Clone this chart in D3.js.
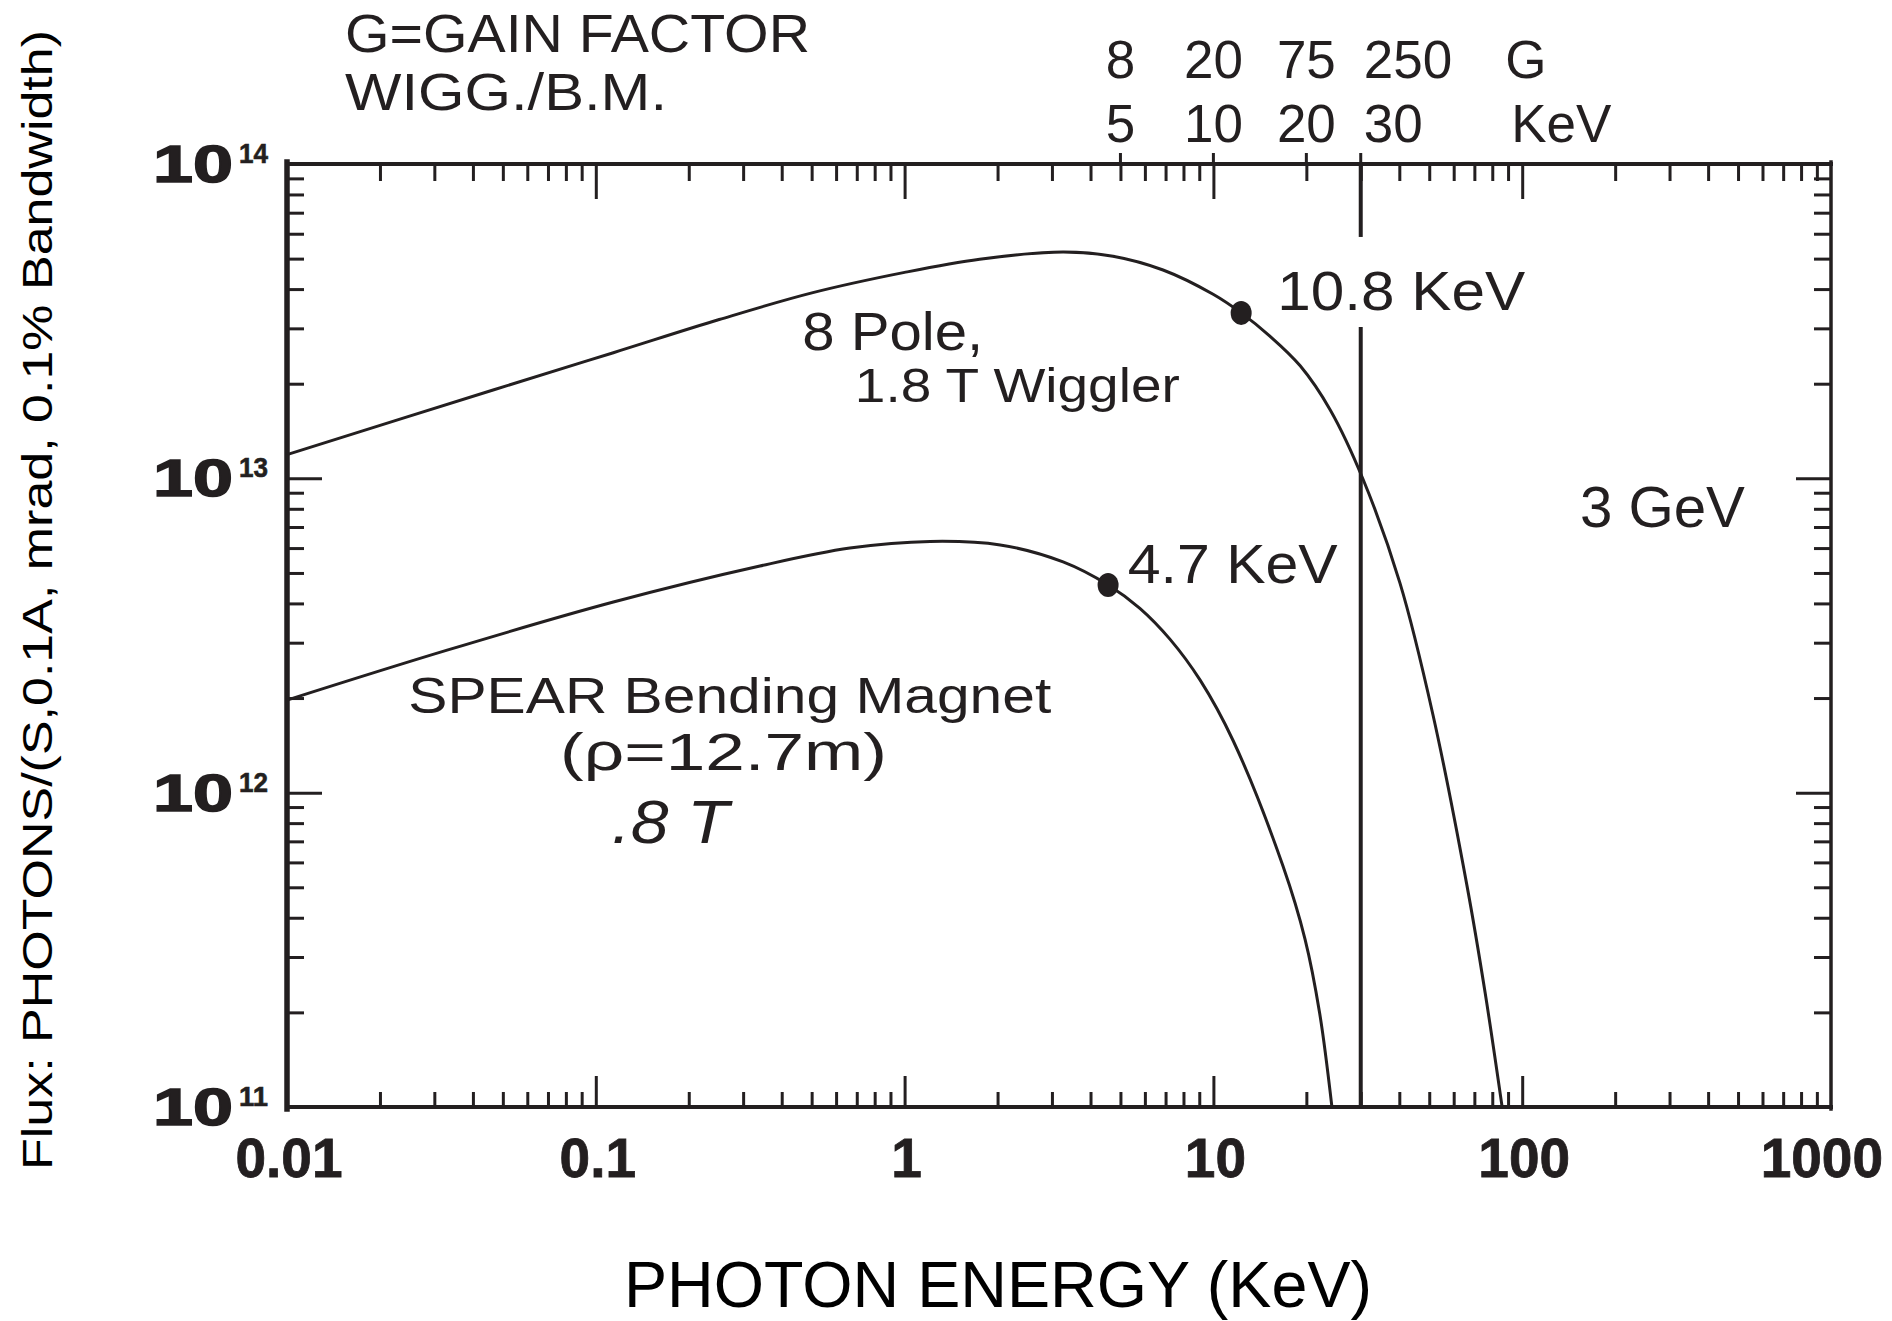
<!DOCTYPE html>
<html>
<head>
<meta charset="utf-8">
<script src="https://cdn.jsdelivr.net/npm/d3@7"></script>
<style>
  html, body { margin: 0; padding: 0; background: #fff; }
  svg { display: block; }
  text { font-family: "Liberation Sans", Arial, Helvetica, sans-serif; fill: #231f20; }
</style>
</head>
<body>
<svg id="chart" width="1892" height="1321"></svg>
<script>
// 8 pole 1.8 T wiggler, flux vs photon energy (KeV)
const wigglerEnergy = [0.01, 0.0465, 0.114, 0.251, 0.501, 1.0, 1.75, 3.26, 4.73, 6.87, 9.98, 12.3, 15.2, 19.1, 23.9, 30.5, 40.2, 51.4, 66.2, 75.9, 86.1]
const wigglerFlux = [1.19e13, 1.91e13, 2.51e13, 3.20e13, 3.89e13, 4.52e13, 4.98e13, 5.25e13, 5.09e13, 4.60e13, 3.85e13, 3.36e13, 2.84e13, 2.28e13, 1.65e13, 9.95e12, 4.64e12, 1.77e12, 5.08e11, 2.30e11, 1e11]

// SPEAR bending magnet
const bendEnergy = [0.01, 0.033, 0.114, 0.34, 0.665, 1.21, 2.04, 3.26, 4.56, 5.78, 7.23, 9.06, 11.6, 16.8, 19.8, 22.1, 24.2]
const bendFlux = [1.97e12, 2.84e12, 4.04e12, 5.26e12, 6.0e12, 6.30e12, 6.14e12, 5.42e12, 4.58e12, 3.86e12, 3.08e12, 2.28e12, 1.46e12, 5.84e11, 3.42e11, 1.98e11, 1e11]

// critical energy markers (dots on the curves)
const criticalEnergy = [12.3, 4.56]
const criticalFlux = [3.36e13, 4.58e12]

// gain factor scale along the top
const gainEnergy = [5, 10, 20, 30]
const gainFactor = ['8', '20', '75', '250']
const gainKeV = ['5', '10', '20', '30']

// 30 KeV cut line, broken around the label
const cutEnergy = 30
const cutFlux = [[1e14, 5.86e13], [3.03e13, 1e11]]

const xTickValues = [0.01, 0.1, 1, 10, 100, 1000]
const xTickLabels = ['0.01', '0.1', '1', '10', '100', '1000']
const yTickValues = [1e11, 1e12, 1e13, 1e14]
const yTickExps = ['11', '12', '13', '14']

const ink = '#231f20'
const svg = d3.select('#chart')

const x = d3.scaleLog().domain([0.01, 1000]).range([287, 1831])
const y = d3.scaleLog().domain([1e11, 1e14]).range([1107, 164])
const [x0, x1] = x.range()
const [y0, y1] = y.range()

const isDecade = v => Math.abs(Math.log10(v) - Math.round(Math.log10(v))) < 1e-9
const xMinor = x.ticks().filter(v => !isDecade(v))
const yMinor = y.ticks().filter(v => !isDecade(v))
const xMajor = xTickValues.slice(1, -1)
const yMajor = yTickValues.slice(1, -1)

const addAxis = (axis, tx, ty) => {
    const g = svg.append('g')
        .attr('transform', `translate(${tx},${ty})`)
        .call(axis.tickFormat(''))
    g.select('.domain').remove()
    g.selectAll('line').attr('stroke', ink).attr('stroke-width', 3)
}

// ticks, all pointing inward
addAxis(d3.axisTop(x).tickValues(xMinor).tickSize(15), 0, y0)
addAxis(d3.axisTop(x).tickValues(xMajor).tickSize(31), 0, y0)
addAxis(d3.axisBottom(x).tickValues(xMinor).tickSize(17), 0, y1)
addAxis(d3.axisBottom(x).tickValues(xMajor).tickSize(35), 0, y1)
addAxis(d3.axisRight(y).tickValues(yMinor).tickSize(17), x0, 0)
addAxis(d3.axisRight(y).tickValues(yMajor).tickSize(35), x0, 0)
addAxis(d3.axisLeft(y).tickValues(yMinor).tickSize(17), x1, 0)
addAxis(d3.axisLeft(y).tickValues(yMajor).tickSize(35), x1, 0)

// frame
const frame = [
    { x1: x0, y1: y1 - 2, x2: x0, y2: y0 + 2, w: 5.5 },
    { x1: x0, y1: y1, x2: x1, y2: y1, w: 4 },
    { x1: x0, y1: y0, x2: x1, y2: y0, w: 4 },
    { x1: x1, y1: y1 - 2, x2: x1, y2: y0 + 2, w: 3.5 }
]
svg.append('g').selectAll('line').data(frame).join('line')
    .attr('x1', d => d.x1).attr('y1', d => d.y1)
    .attr('x2', d => d.x2).attr('y2', d => d.y2)
    .attr('stroke', ink).attr('stroke-width', d => d.w)
    .attr('stroke-linecap', 'square')

// gain ticks sticking out above the top axis
svg.append('g').selectAll('line').data(gainEnergy).join('line')
    .attr('x1', d => x(d)).attr('x2', d => x(d))
    .attr('y1', y1 - 11).attr('y2', y1)
    .attr('stroke', ink).attr('stroke-width', 3)

// 30 KeV line
svg.append('g').selectAll('line').data(cutFlux).join('line')
    .attr('x1', x(cutEnergy)).attr('x2', x(cutEnergy))
    .attr('y1', d => y(d[0])).attr('y2', d => y(d[1]))
    .attr('stroke', ink).attr('stroke-width', 4)

// curves
const line = d3.line()
    .x(d => x(d[0]))
    .y(d => y(d[1]))
    .curve(d3.curveCatmullRom.alpha(0.5))

const series = [d3.zip(wigglerEnergy, wigglerFlux), d3.zip(bendEnergy, bendFlux)]
svg.append('g').selectAll('path').data(series).join('path')
    .attr('d', line)
    .attr('fill', 'none')
    .attr('stroke', ink)
    .attr('stroke-width', 3)

svg.append('g').selectAll('ellipse').data(d3.zip(criticalEnergy, criticalFlux)).join('ellipse')
    .attr('cx', d => x(d[0])).attr('cy', d => y(d[1]))
    .attr('rx', 10.5).attr('ry', 12)
    .attr('fill', ink)

// x tick labels
svg.append('g').selectAll('text').data(xTickValues).join('text')
    .attr('x', (d, i) => i === xTickValues.length - 1 ? x(d) + 52 : x(d) + 2)
    .attr('y', y0 + 70)
    .attr('text-anchor', (d, i) => i === xTickValues.length - 1 ? 'end' : 'middle')
    .attr('font-size', 55)
    .attr('font-weight', 'bold')
    .style('stroke', ink).style('stroke-width', 0.8)
    .text((d, i) => xTickLabels[i])

// y tick labels: 10 with superscript
const yLab = svg.append('g').selectAll('g').data(yTickValues).join('g')
yLab.append('text')
    .attr('x', x0 - 134).attr('y', d => y(d) + 18)
    .attr('font-size', 52).attr('font-weight', 'bold')
    .attr('textLength', 80).attr('lengthAdjust', 'spacingAndGlyphs')
    .style('stroke', ink).style('stroke-width', 1.5)
    .text('10')
yLab.append('text')
    .attr('x', x0 - 48).attr('y', d => y(d) - 1)
    .attr('font-size', 28).attr('font-weight', 'bold')
    .attr('textLength', 29).attr('lengthAdjust', 'spacingAndGlyphs')
    .style('stroke', ink).style('stroke-width', 0.6)
    .text((d, i) => yTickExps[i])

// gain factor / KeV rows above the plot
const gainAnchor = (d, i) => i === gainEnergy.length - 1 ? 'start' : 'middle'
const gainX = (d, i) => i === gainEnergy.length - 1 ? x(d) + 3 : x(d)
svg.append('g').selectAll('text').data(gainEnergy).join('text')
    .attr('x', gainX).attr('y', y1 - 86)
    .attr('text-anchor', gainAnchor).attr('font-size', 53)
    .text((d, i) => gainFactor[i])
svg.append('g').selectAll('text').data(gainEnergy).join('text')
    .attr('x', gainX).attr('y', y1 - 22)
    .attr('text-anchor', gainAnchor).attr('font-size', 53)
    .text((d, i) => gainKeV[i])
svg.append('text').attr('x', x(100) - 17).attr('y', y1 - 86).attr('font-size', 53).text('G')
svg.append('text').attr('x', x(100) - 11).attr('y', y1 - 22).attr('font-size', 53).text('KeV')

// annotations, placed in data space
const note = (txt, e, f, size, len, extra) => {
    const t = svg.append('text')
        .attr('x', x(e)).attr('y', y(f))
        .attr('font-size', size)
        .attr('textLength', len).attr('lengthAdjust', 'spacingAndGlyphs')
        .text(txt)
    if (extra) extra(t)
    return t
}
note('10.8 KeV', 16.1, 3.43e13, 55, 248)
note('4.7 KeV', 5.28, 4.65e12, 55, 210)
note('3 GeV', 153.8, 7.0e12, 57, 165)
note('8 Pole,', 0.466, 2.56e13, 53, 181)
note('1.8 T  Wiggler', 0.69, 1.75e13, 49, 325)
note('SPEAR Bending Magnet', 0.0247, 1.79e12, 50, 643)
note('(ρ=12.7m)', 0.0766, 1.18e12, 51, 327)
note('.8 T', 0.1127, 6.9e11, 62, 117, t => t
    .attr('font-family', '"DejaVu Sans", sans-serif')
    .attr('font-style', 'oblique')
    .attr('font-weight', 200))

// header text
svg.append('text').attr('x', 345).attr('y', 52).attr('font-size', 54)
    .attr('textLength', 465).attr('lengthAdjust', 'spacingAndGlyphs')
    .text('G=GAIN FACTOR')
svg.append('text').attr('x', 345).attr('y', 110).attr('font-size', 52)
    .attr('textLength', 322).attr('lengthAdjust', 'spacingAndGlyphs')
    .text('WIGG./B.M.')

// axis titles
svg.append('text')
    .attr('x', (x0 + x1) / 2 - 61).attr('y', 1307)
    .attr('text-anchor', 'middle')
    .attr('font-size', 64)
    .attr('textLength', 748).attr('lengthAdjust', 'spacingAndGlyphs')
    .style('fill', '#000')
    .text('PHOTON ENERGY (KeV)')

svg.append('text')
    .attr('transform', 'translate(52, 600) rotate(-90)')
    .attr('text-anchor', 'middle')
    .attr('font-size', 42)
    .attr('textLength', 1140).attr('lengthAdjust', 'spacingAndGlyphs')
    .style('fill', '#000')
    .text('Flux: PHOTONS/(S,0.1A, mrad, 0.1% Bandwidth)')
</script>
</body>
</html>
